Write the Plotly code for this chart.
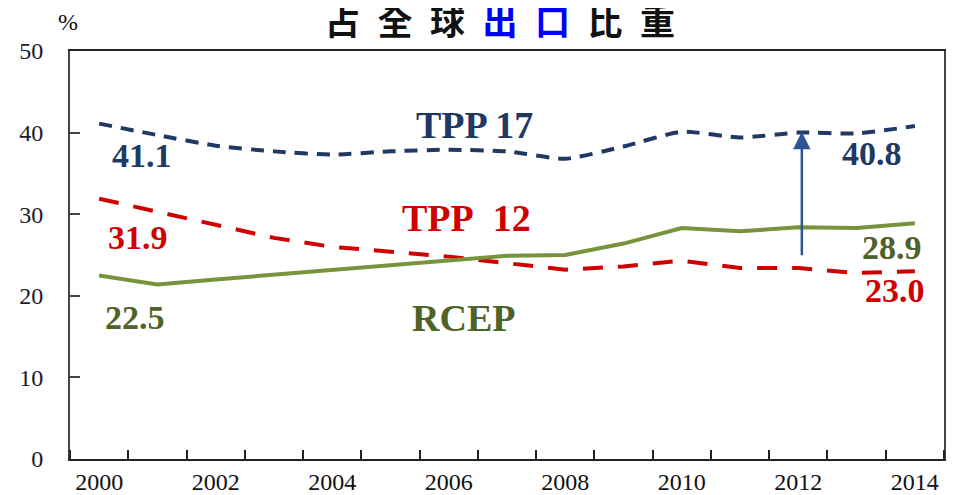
import plotly.graph_objects as go

years = list(range(2000, 2015))
tpp17 = [41.1, 39.7, 38.4, 37.7, 37.3, 37.7, 37.9, 37.7, 36.8, 38.3, 40.1, 39.4, 40.0, 39.9, 40.8]
tpp12 = [31.9, 30.3, 28.7, 27.1, 26.0, 25.4, 24.8, 24.0, 23.2, 23.6, 24.3, 23.4, 23.4, 22.8, 23.0]
rcep = [22.5, 21.4, 22.0, 22.6, 23.2, 23.8, 24.4, 24.9, 25.0, 26.4, 28.3, 27.9, 28.4, 28.3, 28.9]
year_labels = [str(y) for y in range(2000, 2015, 2)]

NAVY = "#1F3864"
RED = "#D00000"
GREEN = "#77933C"
OLIVE = "#4F6228"
SERIF = "Liberation Serif, Times New Roman, serif"

fig = go.Figure()

# lines
fig.add_trace(go.Scatter(x=years, y=tpp17, mode="lines", name="TPP 17",
                         line=dict(color=NAVY, width=4, dash="13px,9px", shape="spline", smoothing=0.6)))
fig.add_trace(go.Scatter(x=years, y=tpp12, mode="lines", name="TPP 12",
                         line=dict(color=RED, width=4, dash="20px,15px")))
fig.add_trace(go.Scatter(x=years, y=rcep, mode="lines", name="RCEP",
                         line=dict(color=GREEN, width=4)))

def label(text, x, y, color, size):
    fig.add_annotation(x=x, y=y, text=text, showarrow=False, xref="x", yref="y",
                       xanchor="center", yanchor="middle",
                       font=dict(family=SERIF, size=size, color=color, weight="bold"))

# series names
label("TPP 17", 2006.45, 40.9, NAVY, 38)
label("TPP\u00a0\u00a012", 2006.3, 29.5, RED, 38)
label("RCEP", 2006.25, 17.3, OLIVE, 38)

# start / end values
label(f"{tpp17[0]:.1f}", years[0] + 0.73, tpp17[0] - 3.85, NAVY, 34)
label(f"{tpp12[0]:.1f}", years[0] + 0.67, tpp12[0] - 4.8, RED, 34)
label(f"{rcep[0]:.1f}", years[0] + 0.62, rcep[0] - 5.1, OLIVE, 34)
label(f"{tpp17[-1]:.1f}", years[-1] - 0.73, tpp17[-1] - 3.4, NAVY, 34)
label(f"{rcep[-1]:.1f}", years[-1] - 0.4, rcep[-1] - 3.0, OLIVE, 34)
label(f"{tpp12[-1]:.1f}", years[-1] - 0.34, tpp12[-1] - 2.4, RED, 34)

# arrow between RCEP-ish level and TPP17 in 2012
fig.add_annotation(x=2012.06, y=40.1, ax=2012.06, ay=24.8, xref="x", yref="y",
                   axref="x", ayref="y", text="", showarrow=True,
                   arrowhead=2, arrowsize=1.4, arrowwidth=2.5, arrowcolor="#2F5496", standoff=0)

# title and unit
sp = "\u2002"
fig.add_annotation(x=0.492, y=1.078, xref="paper", yref="paper", showarrow=False,
                   xanchor="center", yanchor="middle",
                   text=sp.join("占全球") + sp + "<span style='color:#0000FF'>" + sp.join("出口")
                        + "</span>" + sp + sp.join("比重"),
                   font=dict(family="Noto Sans CJK TC", size=35, color="#111111", weight="bold"))
fig.add_annotation(x=-0.002, y=1.071, xref="paper", yref="paper", showarrow=False,
                   xanchor="center", yanchor="middle",
                   text="%", font=dict(family=SERIF, size=24, color="#111111"))

fig.update_xaxes(range=[1999.5, 2014.5], tickmode="array", automargin=False,
                 tickvals=[int(t) for t in year_labels], ticktext=year_labels,
                 ticks="", showgrid=False, zeroline=False,
                 showline=True, linecolor="#222222", linewidth=1.5, mirror=True,
                 tickfont=dict(family=SERIF, size=24, color="#111111"),
                 ticklabelstandoff=0,
                 minor=dict(tickmode="linear", tick0=1999.5, dtick=1, ticks="inside",
                            ticklen=9, tickcolor="#222222", tickwidth=1.5, showgrid=False))
fig.update_yaxes(range=[0, 50], dtick=10, ticks="inside", ticklen=10, automargin=False,
                 tickcolor="#444444", tickwidth=1.5, showgrid=False, zeroline=False,
                 showline=True, linecolor="#444444", linewidth=2, mirror=True,
                 tickfont=dict(family=SERIF, size=24, color="#1a1a2a"),
                 ticklabelstandoff=20)

fig.update_layout(width=957, height=495, showlegend=False,
                  margin=dict(l=62, r=21, t=43, b=44),
                  plot_bgcolor="white", paper_bgcolor="white")

fig.write_html("out.html")
